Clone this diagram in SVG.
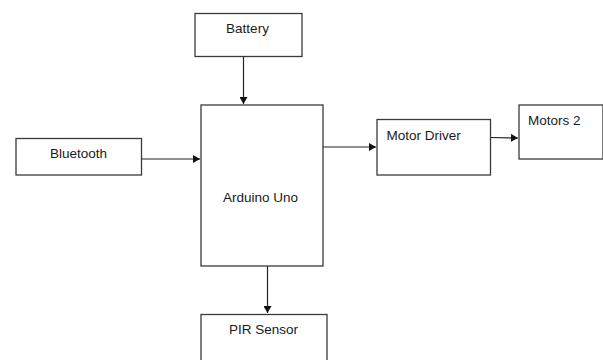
<svg xmlns="http://www.w3.org/2000/svg" width="603" height="360" viewBox="0 0 603 360">
<defs>
<style>
.box{fill:#fff;stroke:#3a3a3a;stroke-width:1.3}
.lbl{font-family:"Liberation Sans",Arial,sans-serif;font-size:13.5px;fill:#1a1a1a}
.ln{stroke:#222;stroke-width:1.2;fill:none}
</style>
<marker id="ah" markerWidth="8" markerHeight="8" refX="7" refY="4" orient="auto" markerUnits="userSpaceOnUse">
<path d="M0,0 L7,4 L0,8 Z" fill="#111"/>
</marker>
</defs>
<rect width="603" height="360" fill="#fff"/>
<g id="connectors">
<line class="ln" x1="243.5" y1="57" x2="243.5" y2="104" marker-end="url(#ah)"/>
<line class="ln" x1="141.5" y1="159" x2="200" y2="159" marker-end="url(#ah)"/>
<line class="ln" x1="323" y1="147" x2="376" y2="147" marker-end="url(#ah)"/>
<line class="ln" x1="490" y1="137.5" x2="518" y2="138" marker-end="url(#ah)"/>
<line class="ln" x1="267.5" y1="266" x2="267.5" y2="313" marker-end="url(#ah)"/>
</g>
<g id="battery">
<rect class="box" x="195" y="13.5" width="107" height="43"/>
<text class="lbl" x="247.5" y="33" text-anchor="middle">Battery</text>
</g>
<g id="bluetooth">
<rect class="box" x="16" y="138.5" width="125.5" height="36.5"/>
<text class="lbl" x="78.5" y="157.5" text-anchor="middle">Bluetooth</text>
</g>
<g id="arduino">
<rect class="box" x="201" y="105" width="122" height="161"/>
<text class="lbl" x="260.5" y="202" text-anchor="middle">Arduino Uno</text>
</g>
<g id="motor-driver">
<rect class="box" x="377" y="119.5" width="113.5" height="55.5"/>
<text class="lbl" x="386.5" y="140">Motor Driver</text>
</g>
<g id="motors2">
<rect class="box" x="519" y="105" width="84" height="54"/>
<text class="lbl" x="528" y="125">Motors 2</text>
</g>
<g id="pir">
<rect class="box" x="201" y="314.5" width="126" height="50"/>
<text class="lbl" x="263.5" y="334" text-anchor="middle">PIR Sensor</text>
</g>
</svg>
